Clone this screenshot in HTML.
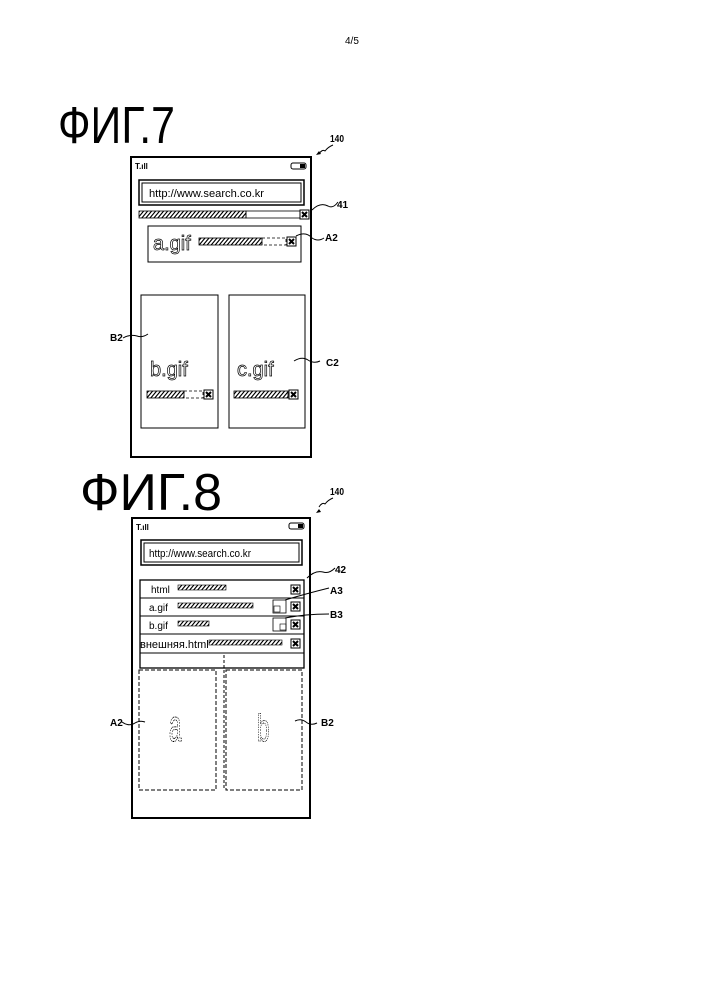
<!DOCTYPE html>
<html><head><meta charset="utf-8"><style>html,body{margin:0;padding:0;background:#fff}svg{display:block}</style></head>
<body>
<svg width="707" height="1000" viewBox="0 0 707 1000" xmlns="http://www.w3.org/2000/svg" font-family="'Liberation Sans', sans-serif">
<defs>
<pattern id="h" width="4" height="8" patternUnits="userSpaceOnUse" patternTransform="skewX(-40)">
<rect width="4" height="8" fill="#fff"/><rect width="1.5" height="8" fill="#000"/></pattern>
<g id="x"><rect width="9" height="9" fill="#fff" stroke="#000"/><path d="M2 2L7 7M7 2L2 7" stroke="#000" stroke-width="2"/></g>
</defs>
<text x="345" y="44" font-size="10" font-family="'Liberation Sans Narrow','Liberation Sans',sans-serif">4/5</text>

<!-- FIG 7 -->
<text x="58" y="143" font-size="52" textLength="117" lengthAdjust="spacingAndGlyphs">ФИГ.7</text>
<text x="330" y="142" font-size="10" font-weight="bold" textLength="14" lengthAdjust="spacingAndGlyphs">140</text>
<path d="M333 145 q-5 2 -8 6 q-3 -2 -6 3" fill="none" stroke="#000"/><path d="M316 155 l5 -1 l-2 -3z" fill="#000"/>
<rect x="131" y="157" width="180" height="300" fill="none" stroke="#000" stroke-width="2"/>
<text x="135" y="169" font-size="8" font-weight="bold">T.ıll</text>
<rect x="291" y="163" width="15" height="6" rx="2" fill="none" stroke="#000"/><rect x="300" y="164" width="5" height="4" fill="#000"/>
<rect x="139" y="180" width="165" height="25" fill="none" stroke="#000" stroke-width="1.5"/>
<rect x="142" y="183" width="159" height="19" fill="none" stroke="#000"/>
<text x="149" y="197" font-size="11" textLength="115" lengthAdjust="spacingAndGlyphs">http://www.search.co.kr</text>
<rect x="139" y="211" width="107" height="7" fill="url(#h)" stroke="#000" stroke-width="0.8"/>
<rect x="246" y="211" width="54" height="7" fill="none" stroke="#000" stroke-width="0.8"/>
<use href="#x" x="300" y="210"/>
<path d="M312 210 q8 -8 16 -4 q5 3 10 -4" fill="none" stroke="#000"/>
<text x="337" y="208" font-size="10" font-weight="bold">41</text>
<rect x="148" y="226" width="153" height="36" fill="none" stroke="#000"/>
<text x="153" y="250" font-size="20" fill="#fff" stroke="#000" stroke-width="0.7">a.gif</text>
<rect x="199" y="238" width="63" height="7" fill="url(#h)" stroke="#000" stroke-width="0.8"/>
<rect x="262" y="238" width="24" height="7" fill="none" stroke="#000" stroke-dasharray="3 2" stroke-width="0.8"/>
<use href="#x" x="287" y="237"/>
<path d="M296 236 q10 -5 16 2 q6 4 12 0" fill="none" stroke="#000"/>
<text x="325" y="241" font-size="10" font-weight="bold">A2</text>
<rect x="141" y="295" width="77" height="133" fill="none" stroke="#000"/>
<rect x="229" y="295" width="76" height="133" fill="none" stroke="#000"/>
<text x="150" y="376" font-size="20" fill="#fff" stroke="#000" stroke-width="0.7">b.gif</text>
<rect x="147" y="391" width="37" height="7" fill="url(#h)" stroke="#000" stroke-width="0.8"/>
<rect x="184" y="391" width="19" height="7" fill="none" stroke="#000" stroke-dasharray="3 2" stroke-width="0.8"/>
<use href="#x" x="204" y="390"/>
<text x="237" y="376" font-size="20" fill="#fff" stroke="#000" stroke-width="0.7">c.gif</text>
<rect x="234" y="391" width="54" height="7" fill="url(#h)" stroke="#000" stroke-width="0.8"/>
<use href="#x" x="289" y="390"/>
<text x="110" y="341" font-size="10" font-weight="bold">B2</text>
<path d="M123 338 q7 -4 14 -2 q5 2 11 -2" fill="none" stroke="#000"/>
<path d="M294 361 q8 -5 14 -1 q6 4 12 1" fill="none" stroke="#000"/>
<text x="326" y="366" font-size="10" font-weight="bold">C2</text>

<!-- FIG 8 -->
<text x="80" y="510" font-size="52" textLength="142" lengthAdjust="spacingAndGlyphs">ФИГ.8</text>
<text x="330" y="495" font-size="10" font-weight="bold" textLength="14" lengthAdjust="spacingAndGlyphs">140</text>
<path d="M333 498 q-5 2 -8 6 q-3 -2 -6 3" fill="none" stroke="#000"/><path d="M316 513 l5 -1 l-2 -3z" fill="#000"/>
<rect x="132" y="518" width="178" height="300" fill="none" stroke="#000" stroke-width="2"/>
<text x="136" y="530" font-size="8" font-weight="bold">T.ıll</text>
<rect x="289" y="523" width="15" height="6" rx="2" fill="none" stroke="#000"/><rect x="298" y="524" width="5" height="4" fill="#000"/>
<rect x="141" y="540" width="161" height="25" fill="none" stroke="#000" stroke-width="1.5"/>
<rect x="144" y="543" width="155" height="19" fill="none" stroke="#000"/>
<text x="149" y="557" font-size="11" textLength="102" lengthAdjust="spacingAndGlyphs">http://www.search.co.kr</text>
<rect x="140" y="580" width="164" height="88" fill="none" stroke="#000" stroke-width="1.3"/>
<path d="M140 598H304M140 616H304M140 634H304M140 653H304" stroke="#000"/>
<text x="151" y="593" font-size="10">html</text>
<rect x="178" y="585" width="48" height="5" fill="url(#h)" stroke="#000" stroke-width="0.6"/>
<use href="#x" x="291" y="585"/>
<text x="149" y="611" font-size="10">a.gif</text>
<rect x="178" y="603" width="75" height="5" fill="url(#h)" stroke="#000" stroke-width="0.6"/>
<rect x="273" y="600" width="13" height="13" fill="none" stroke="#000" stroke-width="0.8"/><rect x="274" y="606" width="6" height="6" fill="none" stroke="#000" stroke-width="0.6"/>
<use href="#x" x="291" y="602"/>
<text x="149" y="629" font-size="10">b.gif</text>
<rect x="178" y="621" width="31" height="5" fill="url(#h)" stroke="#000" stroke-width="0.6"/>
<rect x="273" y="618" width="13" height="13" fill="none" stroke="#000" stroke-width="0.8"/><rect x="280" y="624" width="6" height="6" fill="none" stroke="#000" stroke-width="0.6"/>
<use href="#x" x="291" y="620"/>
<text x="140" y="648" font-size="11">внешняя.html</text>
<rect x="209" y="640" width="73" height="5" fill="url(#h)" stroke="#000" stroke-width="0.6"/>
<use href="#x" x="291" y="639"/>
<path d="M224 655V790" stroke="#000" stroke-dasharray="3 2"/>
<rect x="139" y="670" width="77" height="120" fill="none" stroke="#000" stroke-dasharray="4 2"/>
<rect x="226" y="670" width="76" height="120" fill="none" stroke="#000" stroke-dasharray="4 2"/>
<g transform="translate(169,741) scale(0.8,1.6)"><text x="0" y="0" font-size="28" fill="#fff" stroke="#000" stroke-width="0.7" stroke-dasharray="1 0.8">a</text></g>
<g transform="translate(257,741) scale(0.8,1.35)"><text x="0" y="0" font-size="28" fill="#fff" stroke="#000" stroke-width="0.7" stroke-dasharray="1 0.8">b</text></g>
<path d="M307 578 q8 -8 16 -6 q6 2 12 -4" fill="none" stroke="#000"/>
<text x="335" y="573" font-size="10" font-weight="bold">42</text>
<path d="M285 600 q20 -6 44 -12" fill="none" stroke="#000"/>
<text x="330" y="594" font-size="10" font-weight="bold">A3</text>
<path d="M285 618 q20 -4 44 -4" fill="none" stroke="#000"/>
<text x="330" y="618" font-size="10" font-weight="bold">B3</text>
<text x="110" y="726" font-size="10" font-weight="bold">A2</text>
<path d="M122 722 q7 5 13 1 q5 -3 10 -1" fill="none" stroke="#000"/>
<path d="M295 721 q6 -3 11 1 q5 4 11 1" fill="none" stroke="#000"/>
<text x="321" y="726" font-size="10" font-weight="bold">B2</text>
</svg>
</body></html>
